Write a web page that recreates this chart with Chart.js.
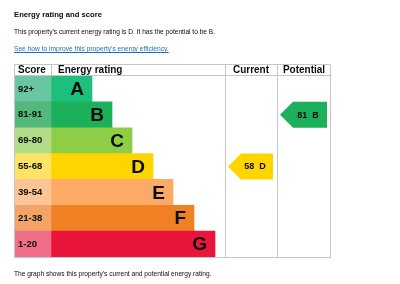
<!DOCTYPE html>
<html>
<head>
<meta charset="utf-8">
<script src="https://cdn.jsdelivr.net/npm/chart.js@4/dist/chart.umd.min.js"></script>
<style>
body { margin: 0; background: #fff; font-family: "Liberation Sans", Arial, sans-serif; color: #0b0c0c; }
#page { position: relative; width: 400px; height: 284px; overflow: hidden; }
#epc { position: absolute; left: 0; top: 0; }
.txt { position: absolute; left: 14px; white-space: nowrap; line-height: 10px; }
#title { top: 10px; font-size: 7.7px; font-weight: bold; }
#intro { top: 27px; font-size: 6.6px; }
#link { top: 44px; font-size: 6.65px; color: #1d70b8; text-decoration: underline; }
#foot { top: 269px; font-size: 6.6px; }
</style>
</head>
<body>
<div id="page">
  <canvas id="epc" width="400" height="284"></canvas>
  <div class="txt" id="title">Energy rating and score</div>
  <div class="txt" id="intro">This property’s current energy rating is D. It has the potential to be B.</div>
  <div class="txt" id="link">See how to improve this property’s energy efficiency.</div>
  <div class="txt" id="foot">The graph shows this property’s current and potential energy rating.</div>
</div>
<script>
'use strict';

/* data */
var bands = ['A', 'B', 'C', 'D', 'E', 'F', 'G'];
var scoreRanges = ['92+', '81-91', '69-80', '55-68', '39-54', '21-38', '1-20'];
var bandMin = [92, 81, 69, 55, 39, 21, 1];
var barLength = [78, 98, 118, 139, 159, 180, 201];
var currentScore = 58;
var potentialScore = 81;

var bandColors = ['#1dbf7c', '#1cb05a', '#8dce46', '#ffd500', '#fcaa65', '#ef8023', '#e9153b'];
var scoreColors = ['#68c7a0', '#52b87c', '#b2dc88', '#ffe364', '#fdc496', '#f3a365', '#f06e87'];

/* table columns, in x-axis units */
var scoreCol = 37;
var ratingCol = 211;
var currentCol = 263;
var tableEnd = 317;
var lineColor = '#c4c6c8';
var font = '"Liberation Sans", Arial, sans-serif';

function bandIndex(score) {
	for (var i = 0; i < bandMin.length; i++) {
		if (score >= bandMin[i]) return i;
	}
	return bandMin.length - 1;
}

/* left pointing arrow with score and letter */
function drawArrow(ctx, chart, score, colStart, colEnd) {
	var x = chart.scales.x, y = chart.scales.y;
	var idx = bandIndex(score);
	var cy = y.getPixelForValue(idx);
	var half = (y.getPixelForValue(1) - y.getPixelForValue(0)) / 2;
	var tip = x.getPixelForValue(colStart) + 3;
	var right = x.getPixelForValue(colEnd) - 4;
	var depth = 13;

	ctx.fillStyle = bandColors[idx];
	ctx.beginPath();
	ctx.moveTo(tip, cy);
	ctx.lineTo(tip + depth, cy - half);
	ctx.lineTo(right, cy - half);
	ctx.lineTo(right, cy + half);
	ctx.lineTo(tip + depth, cy + half);
	ctx.closePath();
	ctx.fill();

	ctx.fillStyle = '#0b0c0c';
	ctx.font = 'bold 9px ' + font;
	ctx.textAlign = 'center';
	ctx.textBaseline = 'middle';
	ctx.fillText(score + '  ' + bands[idx], (tip + depth + right) / 2 - 2, cy + 0.5);
}

var epcTable = {
	id: 'epcTable',
	afterDatasetsDraw: function (chart) {
		var ctx = chart.ctx;
		var x = chart.scales.x, y = chart.scales.y;
		var area = chart.chartArea;
		var top = area.top - 12;
		var headMid = (top + area.top) / 2 + 0.5;
		var i;

		ctx.save();

		/* score labels and rating letters */
		ctx.textBaseline = 'middle';
		for (i = 0; i < bands.length; i++) {
			var cy = y.getPixelForValue(i);
			ctx.fillStyle = '#0b0c0c';
			ctx.textAlign = 'left';
			ctx.font = 'bold 9.5px ' + font;
			ctx.fillText(scoreRanges[i], x.getPixelForValue(0) + 4, cy);
			ctx.textAlign = 'right';
			ctx.font = 'bold 19px ' + font;
			ctx.fillText(bands[i], x.getPixelForValue(barLength[i]) - 8, cy + 1);
		}

		/* header */
		ctx.font = 'bold 10px ' + font;
		ctx.textAlign = 'left';
		ctx.fillText('Score', x.getPixelForValue(0) + 4, headMid);
		ctx.fillText('Energy rating', x.getPixelForValue(scoreCol) + 7, headMid);
		ctx.textAlign = 'center';
		ctx.fillText('Current', (x.getPixelForValue(ratingCol) + x.getPixelForValue(currentCol)) / 2, headMid);
		ctx.fillText('Potential', (x.getPixelForValue(currentCol) + x.getPixelForValue(tableEnd)) / 2, headMid);

		/* grid */
		ctx.strokeStyle = lineColor;
		ctx.lineWidth = 1;
		ctx.beginPath();
		var l = Math.round(x.getPixelForValue(0)) + 0.5;
		var r = Math.round(x.getPixelForValue(tableEnd)) - 0.5;
		var b = Math.round(area.bottom) + 0.5;
		ctx.rect(l, top + 0.5, r - l, b - top - 0.5);
		ctx.moveTo(l, area.top - 0.5);
		ctx.lineTo(r, area.top - 0.5);
		[ratingCol, currentCol].forEach(function (v) {
			var px = Math.round(x.getPixelForValue(v)) + 0.5;
			ctx.moveTo(px, top);
			ctx.lineTo(px, b);
		});
		var sx = Math.round(x.getPixelForValue(scoreCol)) + 0.5;
		ctx.moveTo(sx, top);
		ctx.lineTo(sx, area.top);
		ctx.stroke();

		/* arrows */
		drawArrow(ctx, chart, currentScore, ratingCol, currentCol);
		drawArrow(ctx, chart, potentialScore, currentCol, tableEnd);

		ctx.restore();
	}
};

var chart = new Chart(document.getElementById('epc'), {
	type: 'bar',
	data: {
		labels: bands,
		datasets: [{
			label: 'Score',
			data: bands.map(function () { return [0, scoreCol]; }),
			backgroundColor: scoreColors,
		},
		{
			label: 'Energy rating',
			data: barLength.map(function (v) { return [scoreCol, v]; }),
			backgroundColor: bandColors,
		}]
	},
	options: {
		indexAxis: 'y',
		responsive: false,
		animation: false,
		devicePixelRatio: 1,
		layout: { padding: { left: 14, right: 69, top: 76, bottom: 27 } },
		datasets: {
			bar: { grouped: false, barPercentage: 1, categoryPercentage: 1, borderWidth: 0 }
		},
		scales: {
			x: { type: 'linear', min: 0, max: tableEnd, display: false },
			y: { display: false }
		},
		plugins: {
			legend: { display: false },
			tooltip: { enabled: false }
		}
	},
	plugins: [epcTable]
});
</script>
</body>
</html>
